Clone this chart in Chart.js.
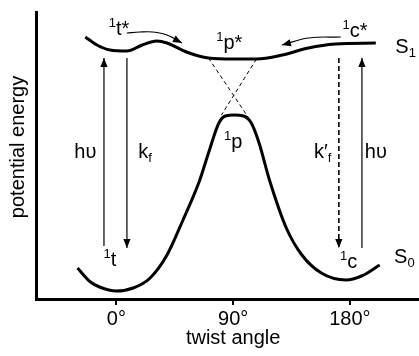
<!DOCTYPE html>
<html>
<head>
<script src="https://cdn.jsdelivr.net/npm/chart.js@4/dist/chart.umd.min.js"></script>
<style>
  body { margin: 0; background: #fff; }
  #wrap { width: 419px; height: 356px; }
</style>
</head>
<body>
<div id="wrap"><canvas id="pe"></canvas></div>
<script>
// twist angle in degrees, energy in arbitrary units (0 = bottom of axis)
const tickAngles = [0, 90, 180]

// ground state S0
const s0Angle  = [-30, -20, -13, 0, 13, 26, 39, 51, 64, 71, 79, 84, 91, 98, 104, 110, 118, 131, 143, 158, 177, 189, 203]
const s0Energy = [31, 17, 12, 8, 11, 21, 44, 78, 118, 146, 176, 183, 184, 183, 176, 156, 119, 71, 44, 26, 19, 23, 34]

// excited state S1
const s1Angle  = [-24, -15, -5, 8, 20, 31, 39, 54, 71, 90, 108, 128, 148, 169, 200]
const s1Energy = [262, 254, 249, 248, 254, 258, 256, 247, 241, 240, 240, 244, 251, 255, 256]

// dashed diabatic crossing near 90 deg
const crossAngle  = [[71, 102], [108, 81]]
const crossEnergy = [[241, 181], [240, 184]]

// vertical transitions: hv (abs), kf, k'f, hv (abs)
const arrowAngle = [-9.6, 8.1, 171.5, 189.3]
const arrowFrom  = [53, 241, 241, 51]
const arrowTo    = [241, 51, 51, 241]
const arrowDash  = [false, false, true, false]

// relaxation arrows on S1
const tStarAngle  = [8, 18, 28, 39, 50.5]
const tStarEnergy = [266, 267, 267, 264, 256]
const cStarAngle  = [173, 148, 127.6]
const cStarEnergy = [262, 261, 254]

// text labels: [text, 'sup' | 'sub' | ''] pieces, anchored at centre / baseline
const labels = [
  { parts: [['1', 'sup'], ['t*', '']], angle: 2, energy: 264 },
  { parts: [['1', 'sup'], ['p*', '']], angle: 87, energy: 250 },
  { parts: [['1', 'sup'], ['c*', '']], angle: 184, energy: 262 },
  { parts: [['S', ''], ['1', 'sub']], angle: 223, energy: 246 },
  { parts: [['1', 'sup'], ['p', '']], angle: 90, energy: 151 },
  { parts: [['1', 'sup'], ['t', '']], angle: -5, energy: 33 },
  { parts: [['1', 'sup'], ['c', '']], angle: 179, energy: 31 },
  { parts: [['S', ''], ['0', 'sub']], angle: 222, energy: 36 },
  { parts: [['hυ', '']], angle: -24, energy: 141 },
  { parts: [['k', ''], ['f', 'sub']], angle: 22, energy: 141 },
  { parts: [['k′', ''], ['f', 'sub']], angle: 159, energy: 141 },
  { parts: [['hυ', '']], angle: 200, energy: 141 }
]

const FONT = '"Liberation Sans", Arial, sans-serif'
const pts = (xs, ys) => xs.map((v, i) => ({ x: v, y: ys[i] }))

const datasets = [
  { data: pts(s0Angle, s0Energy), borderWidth: 3, cubicInterpolationMode: 'monotone' },
  { data: pts(s1Angle, s1Energy), borderWidth: 3, cubicInterpolationMode: 'monotone' },
  { data: pts(tStarAngle, tStarEnergy), borderWidth: 1.2, tension: 0.4, arrowHead: true },
  { data: pts(cStarAngle, cStarEnergy), borderWidth: 1.2, tension: 0.4, arrowHead: true }
]
crossAngle.forEach((a, i) => {
  datasets.push({ data: pts(a, crossEnergy[i]), borderWidth: 1, borderDash: [4, 3] })
})
arrowAngle.forEach((a, i) => {
  datasets.push({
    data: [{ x: a, y: arrowFrom[i] }, { x: a, y: arrowTo[i] }],
    borderWidth: arrowDash[i] ? 1.6 : 1.2,
    borderDash: arrowDash[i] ? [5, 3] : [],
    arrowHead: true
  })
})
datasets.forEach(d => {
  d.showLine = true
  d.pointRadius = 0
  d.borderColor = '#000'
  d.fill = false
})

const drawRich = (ctx, parts, cx, base) => {
  const big = 20, small = 13
  let w = 0
  parts.forEach(([t, k]) => {
    ctx.font = (k ? small : big) + 'px ' + FONT
    w += ctx.measureText(t).width
  })
  let x = cx - w / 2
  parts.forEach(([t, k]) => {
    ctx.font = (k ? small : big) + 'px ' + FONT
    const dy = k === 'sup' ? -8 : k === 'sub' ? 4 : 0
    ctx.fillText(t, x, base + dy)
    x += ctx.measureText(t).width
  })
}

const annotate = {
  id: 'annotate',
  afterDatasetsDraw(chart) {
    const { ctx, scales: { x, y }, chartArea } = chart
    ctx.save()
    ctx.fillStyle = '#000'

    // arrowheads at the last point of each arrow line
    chart.data.datasets.forEach((ds, i) => {
      if (!ds.arrowHead) return
      const p = chart.getDatasetMeta(i).data
      const tip = p[p.length - 1]
      let bx = tip.cp1x, by = tip.cp1y
      if (bx === undefined || Math.hypot(bx - tip.x, by - tip.y) < 0.5) {
        bx = p[p.length - 2].x
        by = p[p.length - 2].y
      }
      const a = Math.atan2(tip.y - by, tip.x - bx)
      const L = 9, W = 3.6
      const cx = tip.x - L * Math.cos(a), cy = tip.y - L * Math.sin(a)
      ctx.beginPath()
      ctx.moveTo(tip.x, tip.y)
      ctx.lineTo(cx + W * Math.sin(a), cy - W * Math.cos(a))
      ctx.lineTo(cx - W * Math.sin(a), cy + W * Math.cos(a))
      ctx.closePath()
      ctx.fill()
    })

    // labels
    ctx.textBaseline = 'alphabetic'
    ctx.textAlign = 'left'
    labels.forEach(l => {
      drawRich(ctx, l.parts, x.getPixelForValue(l.angle), y.getPixelForValue(l.energy))
    })

    // axis titles
    ctx.font = '20px ' + FONT
    ctx.textAlign = 'center'
    ctx.fillText('twist angle', x.getPixelForValue(90), 344)
    ctx.translate(18, chartArea.top + 135)
    ctx.rotate(-Math.PI / 2)
    ctx.textBaseline = 'middle'
    ctx.fillText('potential energy', 0, 0)
    ctx.restore()
  }
}

new Chart(document.getElementById('pe'), {
  type: 'scatter',
  data: { datasets: datasets },
  plugins: [annotate],
  options: {
    responsive: true,
    maintainAspectRatio: false,
    animation: false,
    layout: { padding: { top: 12, right: 0, left: 0, bottom: 0 } },
    plugins: { legend: { display: false }, tooltip: { enabled: false } },
    scales: {
      x: {
        type: 'linear',
        min: -62,
        max: 233.3,
        afterBuildTicks: s => { s.ticks = tickAngles.map(v => ({ value: v })) },
        afterFit: s => { s.height = 57 },
        grid: { display: true, drawOnChartArea: false, drawTicks: true, tickLength: 6, lineWidth: 2, color: '#000' },
        border: { display: true, color: '#000', width: 3 },
        ticks: { color: '#000', font: { family: FONT, size: 20 }, padding: 2, maxRotation: 0, callback: v => v + '°' }
      },
      y: {
        min: 0,
        max: 287,
        afterFit: s => { s.width = 36 },
        ticks: { display: false },
        grid: { display: false },
        border: { display: true, color: '#000', width: 3 }
      }
    }
  }
})
</script>
</body>
</html>
